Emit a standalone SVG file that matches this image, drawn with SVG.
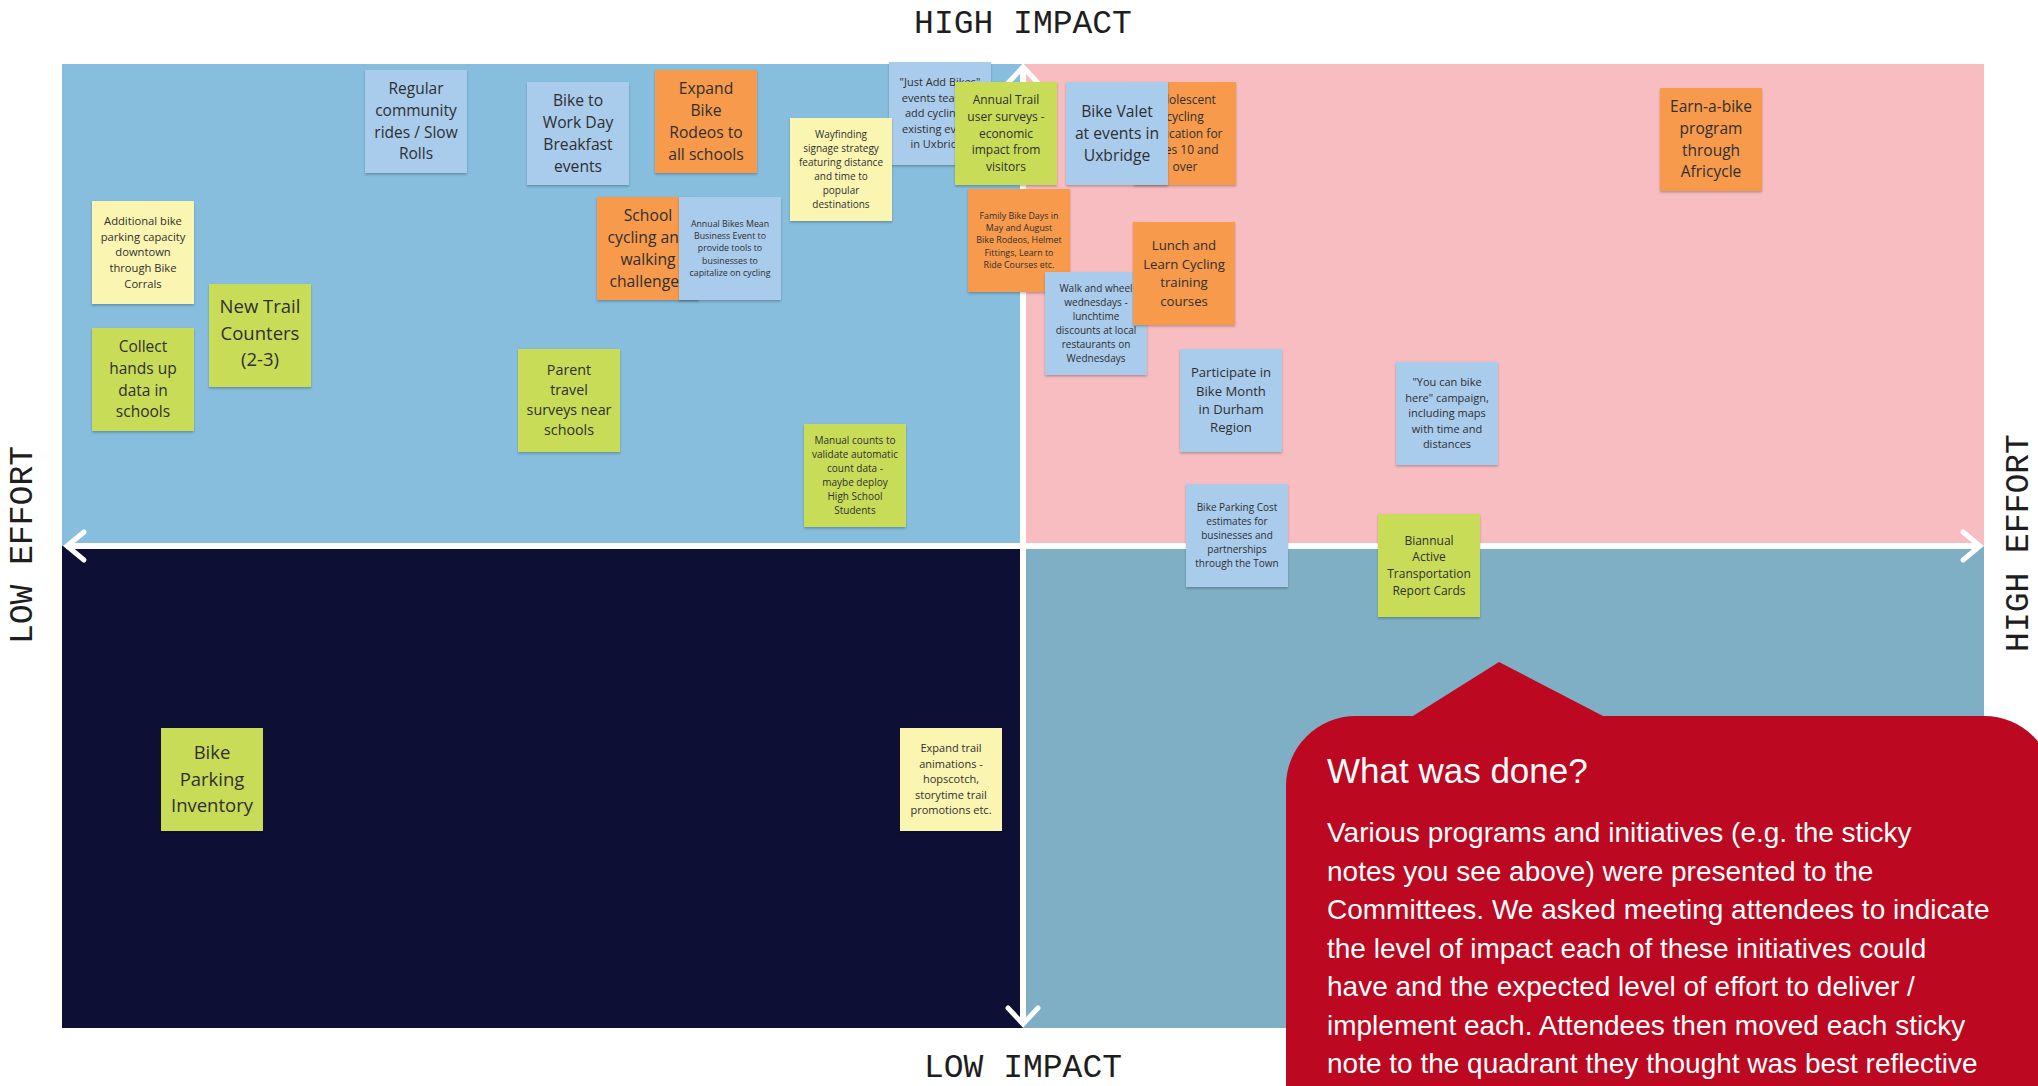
<svg xmlns="http://www.w3.org/2000/svg" width="2038" height="1086" viewBox="0 0 2038 1086">
<defs>
<filter id="sh" x="-10%" y="-10%" width="120%" height="125%">
<feDropShadow dx="0" dy="1.5" stdDeviation="1" flood-color="#000" flood-opacity="0.25"/>
</filter>
<style>
.note rect{filter:url(#sh)}
.blue{fill:#a9cbec}
.orange{fill:#f79a4b}
.green{fill:#c9dc59}
.yellow{fill:#fbf5b2}
.t{font-family:"Open Sans","DejaVu Sans",sans-serif;fill:#2f2f2f;text-anchor:middle}
.ax{font-family:"Liberation Mono","DejaVu Sans Mono",monospace;font-size:33px;fill:#1e1e1e;text-anchor:middle}
.axis{stroke:#fff;stroke-width:6;fill:none}
.head{stroke:#fff;stroke-width:5;fill:none;stroke-linecap:round;stroke-linejoin:miter}
.cw{font-family:"Liberation Sans","DejaVu Sans",sans-serif;fill:#fff}
</style>
</defs>
<rect x="0" y="0" width="2038" height="1086" fill="#fff"/>
<g id="quadrants">
<rect x="62" y="64" width="961" height="482" fill="#87bddd"/>
<rect x="1023" y="64" width="961" height="482" fill="#f7bdc0"/>
<rect x="62" y="546" width="961" height="482" fill="#0e0f34"/>
<rect x="1023" y="546" width="961" height="482" fill="#7eafc4"/>
</g>
<g id="connectors">
<line class="axis" x1="66" y1="546" x2="1980" y2="546"/>
<line class="axis" x1="1023" y1="67" x2="1023" y2="1025"/>
<polyline class="head" points="84,532 67,546 84,560"/>
<polyline class="head" points="1963,532 1980,546 1963,560"/>
<polyline class="head" points="1008,83 1023,67 1038,83"/>
<polyline class="head" points="1008,1008 1023,1024 1038,1008"/>
</g>
<g id="axis-labels">
<text class="ax" x="1023" y="33">HIGH IMPACT</text>
<text class="ax" x="1023" y="1077">LOW IMPACT</text>
<text class="ax" transform="translate(32,545) rotate(-90)">LOW EFFORT</text>
<text class="ax" transform="translate(2028,543) rotate(-90)">HIGH EFFORT</text>
</g>
<g id="n-regular" class="note"><rect class="blue" x="365" y="70" width="102" height="103"/>
<text class="t" font-size="15.5"><tspan x="416" y="94">Regular</tspan><tspan x="416" y="115.8">community</tspan><tspan x="416" y="137.5">rides / Slow</tspan><tspan x="416" y="159.2">Rolls</tspan></text></g>
<g id="n-bike-to-work" class="note"><rect class="blue" x="527" y="82" width="102" height="103"/>
<text class="t" font-size="15.7"><tspan x="578" y="105.7">Bike to</tspan><tspan x="578" y="127.7">Work Day</tspan><tspan x="578" y="149.7">Breakfast</tspan><tspan x="578" y="171.7">events</tspan></text></g>
<g id="n-expand-rodeos" class="note"><rect class="orange" x="655" y="70" width="102" height="103"/>
<text class="t" font-size="15.7"><tspan x="706" y="93.7">Expand</tspan><tspan x="706" y="115.7">Bike</tspan><tspan x="706" y="137.7">Rodeos to</tspan><tspan x="706" y="159.7">all schools</tspan></text></g>
<g id="n-additional-parking" class="note"><rect class="yellow" x="92" y="201" width="102" height="103"/>
<text class="t" font-size="11.2"><tspan x="143" y="224.8">Additional bike</tspan><tspan x="143" y="240.5">parking capacity</tspan><tspan x="143" y="256.2">downtown</tspan><tspan x="143" y="271.9">through Bike</tspan><tspan x="143" y="287.6">Corrals</tspan></text></g>
<g id="n-new-trail-counters" class="note"><rect class="green" x="209" y="284" width="102" height="103"/>
<text class="t" font-size="18.5"><tspan x="260" y="313">New Trail</tspan><tspan x="260" y="339.5">Counters</tspan><tspan x="260" y="366">(2-3)</tspan></text></g>
<g id="n-collect-hands-up" class="note"><rect class="green" x="92" y="328" width="102" height="103"/>
<text class="t" font-size="15.5"><tspan x="143" y="352">Collect</tspan><tspan x="143" y="373.8">hands up</tspan><tspan x="143" y="395.5">data in</tspan><tspan x="143" y="417.2">schools</tspan></text></g>
<g id="n-parent-travel" class="note"><rect class="green" x="518" y="349" width="102" height="103"/>
<text class="t" font-size="14.3"><tspan x="569" y="375.2">Parent</tspan><tspan x="569" y="395.2">travel</tspan><tspan x="569" y="415.2">surveys near</tspan><tspan x="569" y="435.2">schools</tspan></text></g>
<g id="n-school-cycling" class="note"><rect class="orange" x="597" y="197" width="102" height="103"/>
<text class="t" font-size="15.7"><tspan x="648" y="220.7">School</tspan><tspan x="648" y="242.7">cycling and</tspan><tspan x="648" y="264.7">walking</tspan><tspan x="648" y="286.7">challenges</tspan></text></g>
<g id="n-bikes-mean-business" class="note"><rect class="blue" x="679" y="197" width="102" height="103"/>
<text class="t" font-size="8.8"><tspan x="730" y="226.8">Annual Bikes Mean</tspan><tspan x="730" y="239.1">Business Event to</tspan><tspan x="730" y="251.4">provide tools to</tspan><tspan x="730" y="263.7">businesses to</tspan><tspan x="730" y="276">capitalize on cycling</tspan></text></g>
<g id="n-just-add-bikes" class="note"><rect class="blue" x="889" y="62" width="102" height="103"/>
<text class="t" font-size="11"><tspan x="940" y="86.1">"Just Add Bikes"</tspan><tspan x="940" y="101.6">events team to</tspan><tspan x="940" y="117.1">add cycling to</tspan><tspan x="940" y="132.6">existing events</tspan><tspan x="940" y="148.1">in Uxbridge</tspan></text></g>
<g id="n-wayfinding" class="note"><rect class="yellow" x="790" y="118" width="102" height="103"/>
<text class="t" font-size="10"><tspan x="841" y="137.8">Wayfinding</tspan><tspan x="841" y="151.8">signage strategy</tspan><tspan x="841" y="165.8">featuring distance</tspan><tspan x="841" y="179.8">and time to</tspan><tspan x="841" y="193.8">popular</tspan><tspan x="841" y="207.8">destinations</tspan></text></g>
<g id="n-annual-trail-surveys" class="note"><rect class="green" x="955" y="82" width="102" height="103"/>
<text class="t" font-size="12"><tspan x="1006" y="104.1">Annual Trail</tspan><tspan x="1006" y="120.8">user surveys -</tspan><tspan x="1006" y="137.5">economic</tspan><tspan x="1006" y="154.2">impact from</tspan><tspan x="1006" y="170.9">visitors</tspan></text></g>
<g id="n-adolescent" class="note"><rect class="orange" x="1134" y="82" width="102" height="103"/>
<text class="t" font-size="12"><tspan x="1185" y="104.1">Adolescent</tspan><tspan x="1185" y="120.8">cycling</tspan><tspan x="1185" y="137.5">education for</tspan><tspan x="1185" y="154.2">ages 10 and</tspan><tspan x="1185" y="170.9">over</tspan></text></g>
<g id="n-bike-valet" class="note"><rect class="blue" x="1066" y="82" width="102" height="103"/>
<text class="t" font-size="15.7"><tspan x="1117" y="116.7">Bike Valet</tspan><tspan x="1117" y="138.7">at events in</tspan><tspan x="1117" y="160.7">Uxbridge</tspan></text></g>
<g id="n-family-bike-days" class="note"><rect class="orange" x="968" y="189" width="102" height="103"/>
<text class="t" font-size="8.9"><tspan x="1019" y="218.6">Family Bike Days in</tspan><tspan x="1019" y="231">May and August</tspan><tspan x="1019" y="243.4">Bike Rodeos, Helmet</tspan><tspan x="1019" y="255.8">Fittings, Learn to</tspan><tspan x="1019" y="268.2">Ride Courses etc.</tspan></text></g>
<g id="n-walk-wheel" class="note"><rect class="blue" x="1045" y="272" width="102" height="103"/>
<text class="t" font-size="10"><tspan x="1096" y="291.8">Walk and wheel</tspan><tspan x="1096" y="305.8">wednesdays -</tspan><tspan x="1096" y="319.8">lunchtime</tspan><tspan x="1096" y="333.8">discounts at local</tspan><tspan x="1096" y="347.8">restaurants on</tspan><tspan x="1096" y="361.8">Wednesdays</tspan></text></g>
<g id="n-lunch-learn" class="note"><rect class="orange" x="1133" y="222" width="102" height="103"/>
<text class="t" font-size="13.2"><tspan x="1184" y="250.1">Lunch and</tspan><tspan x="1184" y="268.6">Learn Cycling</tspan><tspan x="1184" y="287.1">training</tspan><tspan x="1184" y="305.6">courses</tspan></text></g>
<g id="n-bike-month" class="note"><rect class="blue" x="1180" y="349" width="102" height="103"/>
<text class="t" font-size="13.1"><tspan x="1231" y="377.4">Participate in</tspan><tspan x="1231" y="395.7">Bike Month</tspan><tspan x="1231" y="414">in Durham</tspan><tspan x="1231" y="432.3">Region</tspan></text></g>
<g id="n-manual-counts" class="note"><rect class="green" x="804" y="424" width="102" height="103"/>
<text class="t" font-size="10"><tspan x="855" y="443.8">Manual counts to</tspan><tspan x="855" y="457.8">validate automatic</tspan><tspan x="855" y="471.8">count data -</tspan><tspan x="855" y="485.8">maybe deploy</tspan><tspan x="855" y="499.8">High School</tspan><tspan x="855" y="513.8">Students</tspan></text></g>
<g id="n-parking-cost" class="note"><rect class="blue" x="1186" y="484" width="102" height="103"/>
<text class="t" font-size="10"><tspan x="1237" y="510.8">Bike Parking Cost</tspan><tspan x="1237" y="524.8">estimates for</tspan><tspan x="1237" y="538.8">businesses and</tspan><tspan x="1237" y="552.8">partnerships</tspan><tspan x="1237" y="566.8">through the Town</tspan></text></g>
<g id="n-biannual" class="note"><rect class="green" x="1378" y="514" width="102" height="103"/>
<text class="t" font-size="12"><tspan x="1429" y="544.5">Biannual</tspan><tspan x="1429" y="561.2">Active</tspan><tspan x="1429" y="577.9">Transportation</tspan><tspan x="1429" y="594.6">Report Cards</tspan></text></g>
<g id="n-you-can-bike" class="note"><rect class="blue" x="1396" y="362" width="102" height="103"/>
<text class="t" font-size="11"><tspan x="1447" y="386.1">"You can bike</tspan><tspan x="1447" y="401.6">here" campaign,</tspan><tspan x="1447" y="417.1">including maps</tspan><tspan x="1447" y="432.6">with time and</tspan><tspan x="1447" y="448.1">distances</tspan></text></g>
<g id="n-earn-a-bike" class="note"><rect class="orange" x="1660" y="88" width="102" height="103"/>
<text class="t" font-size="15.5"><tspan x="1711" y="112.1">Earn-a-bike</tspan><tspan x="1711" y="133.8">program</tspan><tspan x="1711" y="155.5">through</tspan><tspan x="1711" y="177.2">Africycle</tspan></text></g>
<g id="n-parking-inventory" class="note"><rect class="green" x="161" y="728" width="102" height="103"/>
<text class="t" font-size="18.5"><tspan x="212" y="759.3">Bike</tspan><tspan x="212" y="785.6">Parking</tspan><tspan x="212" y="811.9">Inventory</tspan></text></g>
<g id="n-trail-animations" class="note"><rect class="yellow" x="900" y="728" width="102" height="103"/>
<text class="t" font-size="11"><tspan x="951" y="751.9">Expand trail</tspan><tspan x="951" y="767.5">animations -</tspan><tspan x="951" y="783.1">hopscotch,</tspan><tspan x="951" y="798.7">storytime trail</tspan><tspan x="951" y="814.3">promotions etc.</tspan></text></g>
<g id="callout">
<path d="M1286,1100 L1286,786 A70,70 0 0 1 1356,716 L1413,716 L1499,662 L1603,716 L1984,716 A70,70 0 0 1 2054,786 L2054,1100 Z" fill="#bc0820"/>
<text class="cw" x="1327" y="783" font-size="35">What was done?</text>
<text class="cw" font-size="28">
<tspan x="1327" y="842">Various programs and initiatives (e.g. the sticky</tspan>
<tspan x="1327" y="880.5">notes you see above) were  presented to the</tspan>
<tspan x="1327" y="919">Committees. We asked meeting attendees to indicate</tspan>
<tspan x="1327" y="957.5">the level of impact each of these initiatives could</tspan>
<tspan x="1327" y="996">have and the expected level of effort to deliver /</tspan>
<tspan x="1327" y="1034.5">implement each. Attendees then moved each sticky</tspan>
<tspan x="1327" y="1073">note to the quadrant they thought was best reflective</tspan>
</text>
</g>
</svg>
